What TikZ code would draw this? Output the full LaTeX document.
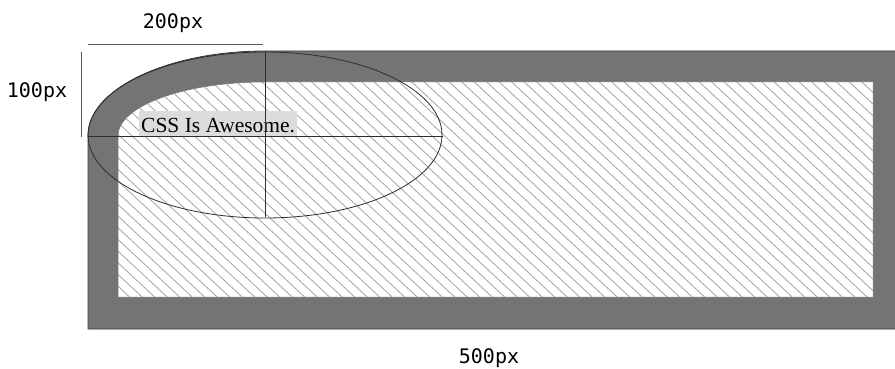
\documentclass[tikz,border=0pt]{standalone}
\usepackage{fontspec}
\setmainfont{Liberation Serif}
\newfontfamily\dimfont{DejaVu Sans Mono}
\definecolor{borderFill}{HTML}{747474}
\definecolor{borderDraw}{HTML}{3C3C3C}
\definecolor{hatchDraw}{HTML}{A4A4A4}
\definecolor{textFill}{HTML}{DCDCDC}
\definecolor{guideDraw}{HTML}{2E2E2E}

\begin{document}
\begin{tikzpicture}[
  x=1pt, y=-1pt,
  border/.style={fill=borderFill, draw=borderDraw, line width=0.8pt},
  padbox/.style={fill=white, draw=borderDraw!70, line width=0.5pt},
  hatch/.style={draw=hatchDraw, line width=0.8pt},
  guide/.style={draw=guideDraw, line width=0.8pt},
  dimline/.style={draw=gray!70!black, line width=0.8pt},
  dimlabel/.style={font=\dimfont\fontsize{20}{20}\selectfont, inner sep=0pt},
  sample/.style={font=\fontsize{21.5}{21.5}\selectfont, fill=textFill, text=black,
                 text height=20pt, text depth=4pt, inner xsep=2pt, inner ysep=1pt},
]
\useasboundingbox (0,0) rectangle (895,369);

% ---- Border box with elliptical top-left corner ----
\draw[border] (88,329) -- (88,136)
  arc[start angle=180, end angle=270, x radius=177, y radius=85]
  -- (905,51) -- (905,329) -- cycle;

% ---- Padding box ----
\path[padbox, draw=none] (118,297) -- (118,136)
  arc[start angle=180, end angle=270, x radius=147, y radius=54]
  -- (873,82) -- (873,297) -- cycle;

% ---- Diagonal hatching inside the padding box ----
\begin{scope}
  \clip (118,297) -- (118,136)
    arc[start angle=180, end angle=270, x radius=147, y radius=54]
    -- (873,82) -- (873,297) -- cycle;
  \foreach \x in {-230,-217.5,...,880}
    \draw[hatch] (\x,78) -- ++(240,224);
\end{scope}
\draw[padbox, fill=none] (118,297) -- (118,136)
  arc[start angle=180, end angle=270, x radius=147, y radius=54]
  -- (873,82) -- (873,297) -- cycle;

% ---- Sample text ----
\node[sample, anchor=base west] (css) at (139,132) {CSS Is Awesome.};

% ---- Radius ellipse and its axes ----
\coordinate (ctr) at (265,135);
\draw[guide] (ctr) ellipse[x radius=177, y radius=83];
\coordinate (axL) at (88,136);
\coordinate (axR) at (443,136);
\coordinate (axT) at (265,51);
\coordinate (axB) at (265,217);
\draw[guide] (axL) -- (axR);
\draw[guide] (axT) -- (axB);

% ---- Dimension marks ----
\coordinate (wA) at (88,44);
\coordinate (wB) at (263,44);
\draw[dimline] (wA) -- (wB);
\node[dimlabel] (wlab) at (173,23) {200px};

\coordinate (hA) at (81,52);
\coordinate (hB) at (81,137);
\draw[dimline] (hA) -- (hB);
\node[dimlabel] (hlab) at (37,92) {100px};

\node[dimlabel] (tlab) at (489,358) {500px};

\end{tikzpicture}
\end{document}
